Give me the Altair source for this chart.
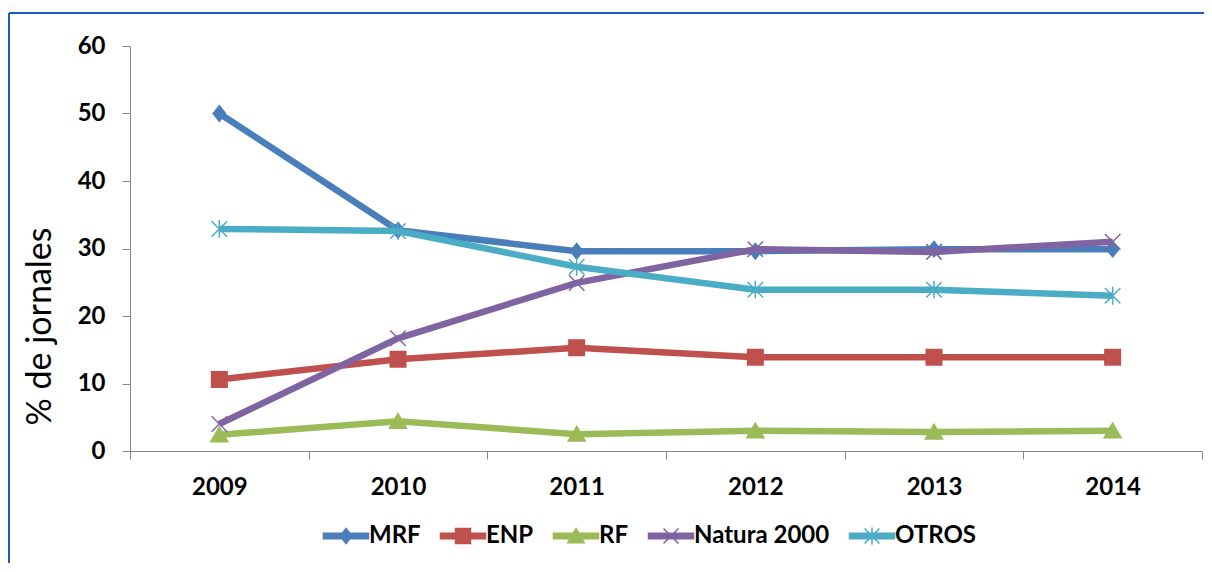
import altair as alt
import pandas as pd

years = ["2009", "2010", "2011", "2012", "2013", "2014"]
series = ["MRF", "ENP", "RF", "Natura 2000", "OTROS"]
mrf = [50.0, 32.7, 29.6, 29.6, 29.9, 29.9]
enp = [10.6, 13.6, 15.3, 13.9, 13.9, 13.9]
rf = [2.4, 4.4, 2.5, 3.0, 2.8, 3.0]
natura = [4.0, 16.7, 24.9, 29.9, 29.5, 31.0]
otros = [32.9, 32.6, 27.3, 23.9, 23.9, 23.0]
colors = ["#4a7ebb", "#c0504d", "#9bbb59", "#8064a2", "#4bacc6"]

values = [mrf, enp, rf, natura, otros]
rows = []
for s, vals in zip(series, values):
    for yr, v in zip(years, vals):
        rows.append({"year": yr, "series": s, "value": v})
df = pd.DataFrame(rows)

marker_paths = [
    "M0,-1L0.8,0L0,1L-0.8,0Z",
    "M-1,-1L1,-1L1,1L-1,1Z",
    "M0,-1L1.1,0.9L-1.1,0.9Z",
    "M-1,-1L1,1M-1,1L1,-1",
    "M-1,-1L1,1M-1,1L1,-1M0,-1.15L0,1.15",
]
bar = "M-1,-0.38L5,-0.38L5,0.38L-1,0.38Z"
legend_paths = [
    bar + "M2,-1L2.8,0L2,1L1.2,0Z",
    bar + "M1,-1L3,-1L3,1L1,1Z",
    bar + "M2,-1L3.1,0.9L0.9,0.9Z",
    bar + "M1,-1L3,1M1,1L3,-1",
    bar + "M1,-1L3,1M1,1L3,-1M2,-1.15L2,1.15",
]

FONT = "Lato"
cscale = alt.Scale(domain=series, range=colors)

x_enc = alt.X(
    "year:N",
    sort=years,
    scale=alt.Scale(type="band", paddingInner=0, paddingOuter=0),
    axis=alt.Axis(
        title=None, labelAngle=0, tickBand="extent", tickSize=8,
        tickColor="#888888", domainColor="#888888", labelPadding=16,
        labelFont=FONT, labelFontSize=24, labelFontWeight="bold", labelColor="black",
    ),
)
y_enc = alt.Y(
    "value:Q",
    scale=alt.Scale(domain=[0, 60], nice=False),
    axis=alt.Axis(
        title="% de jornales", values=[0, 10, 20, 30, 40, 50, 60], grid=False,
        tickSize=8, tickColor="#888888", domainColor="#888888", labelPadding=17,
        labelFont=FONT, labelFontSize=24, labelFontWeight="bold", labelColor="black",
        titleFont=FONT, titleFontSize=34, titleFontWeight="normal", titleColor="black",
        titleAngle=270, titleX=-90, titleY=280, titleAlign="center", titleBaseline="middle",
    ),
)

base = alt.Chart(df)

leg = alt.Legend(
    title=None, orient="none", legendX=189, legendY=478, direction="horizontal",
    symbolSize=225, symbolStrokeWidth=1.5, symbolOpacity=1, labelOffset=26,
    columnPadding=15, labelFont=FONT, labelFontSize=24, labelFontWeight="bold",
    labelColor="black",
)
legend_layer = base.mark_point(filled=True, opacity=0, size=225).encode(
    x=x_enc, y=y_enc,
    fill=alt.Fill("series:N", scale=cscale, legend=leg),
    stroke=alt.Stroke("series:N", scale=cscale, legend=leg),
    shape=alt.Shape("series:N", scale=alt.Scale(domain=series, range=legend_paths), legend=leg),
)
layers = [legend_layer]

for s, path in zip(series, marker_paths):
    sub = base.transform_filter(alt.datum.series == s)
    line = sub.mark_line(strokeWidth=6.5).encode(
        x=x_enc, y=y_enc, color=alt.Color("series:N", scale=cscale, legend=None)
    )
    pts = sub.mark_point(shape=path, filled=True, size=240, strokeWidth=1.5, opacity=1).encode(
        x=x_enc, y=y_enc,
        fill=alt.Fill("series:N", scale=cscale, legend=None),
        stroke=alt.Stroke("series:N", scale=cscale, legend=None),
    )
    layers += [line, pts]

frame_df = pd.DataFrame({"k": [0]})
top_rule = alt.Chart(frame_df).mark_rule(color="#1f5bbf", strokeWidth=2).encode(
    x=alt.value(-121), x2=alt.value(1080), y=alt.value(-33)
)
left_rule = alt.Chart(frame_df).mark_rule(color="#1f5bbf", strokeWidth=2).encode(
    x=alt.value(-121), y=alt.value(-33), y2=alt.value(520)
)
layers += [top_rule, left_rule]

chart = alt.layer(*layers).properties(
    width=1072, height=405,
    autosize=alt.AutoSizeParams(type="none"),
    padding={"left": 122, "top": 38, "right": 2, "bottom": 112},
).configure_view(stroke=None)

chart.save("out.html", embed_options={"renderer": "svg", "actions": False})
